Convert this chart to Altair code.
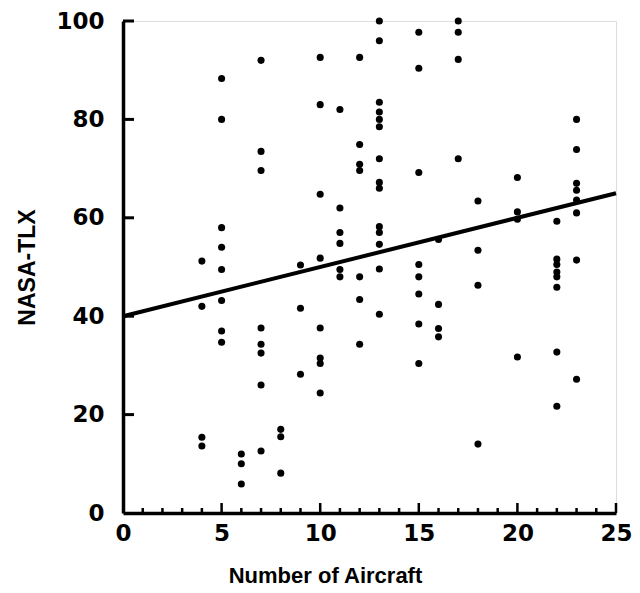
import altair as alt
import pandas as pd

# Scatter data: number of aircraft (x) vs NASA-TLX (y)
aircraft = (
    [4] * 4 + [5] * 8 + [6] * 3 + [7] * 8 + [8] * 3 + [9] * 3 + [10] * 8 +
    [11] * 6 + [12] * 7 + [13] * 14 + [15] * 8 + [16] * 4 + [17] * 4 +
    [18] * 4 + [20] * 4 + [22] * 8 + [23] * 8
)
tlx = [
    51.2, 42, 15.4, 13.6,                                  # 4
    88.3, 80, 58, 54, 49.5, 43.2, 37, 34.7,                # 5
    12, 10, 5.9,                                           # 6
    92, 73.5, 69.6, 37.6, 34.3, 32.5, 26, 12.6,            # 7
    17, 15.5, 8.1,                                         # 8
    50.4, 41.6, 28.2,                                      # 9
    92.6, 83, 64.8, 51.8, 37.6, 31.5, 30.4, 24.4,          # 10
    82, 62, 57, 54.8, 49.5, 48,                            # 11
    92.6, 74.9, 70.9, 69.6, 48, 43.4, 34.3,                # 12
    100, 96, 83.5, 81.5, 80, 78.5, 72, 67.2, 66, 58.2, 57, 54.6, 49.6, 40.4,  # 13
    97.7, 90.4, 69.2, 50.5, 48, 44.5, 38.4, 30.4,          # 15
    55.6, 42.4, 37.5, 35.8,                                # 16
    100, 97.7, 92.2, 72,                                   # 17
    63.4, 53.4, 46.3, 14,                                  # 18
    68.2, 61.2, 59.7, 31.7,                                # 20
    59.3, 51.6, 50.5, 49, 48, 45.9, 32.7, 21.7,            # 22
    80, 73.9, 67, 65.6, 63.6, 61, 51.4, 27.2,              # 23
]

# Regression line end points
fit_x = [0, 25]
fit_y = [40, 65]

# Axis ticks
x_labels = [0, 5, 10, 15, 20, 25]
y_labels = [0, 20, 40, 60, 80, 100]
x_major = [5, 10, 15, 20, 25]
x_minor = [1, 2, 3, 4, 6, 7, 8, 9, 11, 12, 13, 14, 16, 17, 18, 19, 21, 22, 23, 24]
y_major = [20, 40, 60, 80, 100]

LABEL_FONT = "DejaVu Sans"
TITLE_FONT = "Liberation Sans"

xscale = alt.Scale(domain=[0, 25], nice=False, zero=False)
yscale = alt.Scale(domain=[0, 100], nice=False)

pts = pd.DataFrame({"x": aircraft, "y": tlx})
fit = pd.DataFrame({"x": fit_x, "y": fit_y})

xaxis = alt.Axis(
    values=x_labels, ticks=False, grid=False, labelFlush=False,
    domainColor="black", domainWidth=3.5, labelPadding=9,
    labelFont=LABEL_FONT, labelFontSize=23, labelFontWeight="bold", labelColor="black",
    title="Number of Aircraft", titleFont=TITLE_FONT, titleFontSize=22,
    titleFontWeight="bold", titleColor="black", titlePadding=20,
    titleX=202, titleAlign="center",
)
yaxis = alt.Axis(
    values=y_labels, ticks=False, grid=False, labelFlush=False,
    domainColor="black", domainWidth=3.5, labelPadding=19,
    labelFont=LABEL_FONT, labelFontSize=23, labelFontWeight="bold", labelColor="black",
    title="NASA-TLX", titleFont=TITLE_FONT, titleFontSize=23,
    titleFontWeight="bold", titleColor="black", titlePadding=16,
)

points = alt.Chart(pts).mark_circle(size=50, color="black", opacity=1).encode(
    x=alt.X("x:Q", scale=xscale, axis=xaxis),
    y=alt.Y("y:Q", scale=yscale, axis=yaxis),
)

line = alt.Chart(fit).mark_line(color="black", strokeWidth=4).encode(
    x=alt.X("x:Q", scale=xscale),
    y=alt.Y("y:Q", scale=yscale),
)

xmaj = alt.Chart(pd.DataFrame({"x": x_major})).mark_rule(color="black", strokeWidth=2.5).encode(
    x=alt.X("x:Q", scale=xscale), y=alt.value(492), y2=alt.value(482)
)
xmin = alt.Chart(pd.DataFrame({"x": x_minor})).mark_rule(color="black", strokeWidth=2.5).encode(
    x=alt.X("x:Q", scale=xscale), y=alt.value(492), y2=alt.value(487)
)
ymaj = alt.Chart(pd.DataFrame({"y": y_major})).mark_rule(color="black", strokeWidth=3).encode(
    y=alt.Y("y:Q", scale=yscale), x=alt.value(0), x2=alt.value(11)
)

chart = alt.layer(xmin, xmaj, ymaj, line, points).properties(
    width=493, height=492,
    autosize=alt.AutoSizeParams(type="none"),
    padding={"left": 115, "top": 13, "right": 16, "bottom": 78},
).configure_view(stroke=None).configure(background="white")

chart.save("out.html", embed_options={"renderer": "svg", "actions": False})
